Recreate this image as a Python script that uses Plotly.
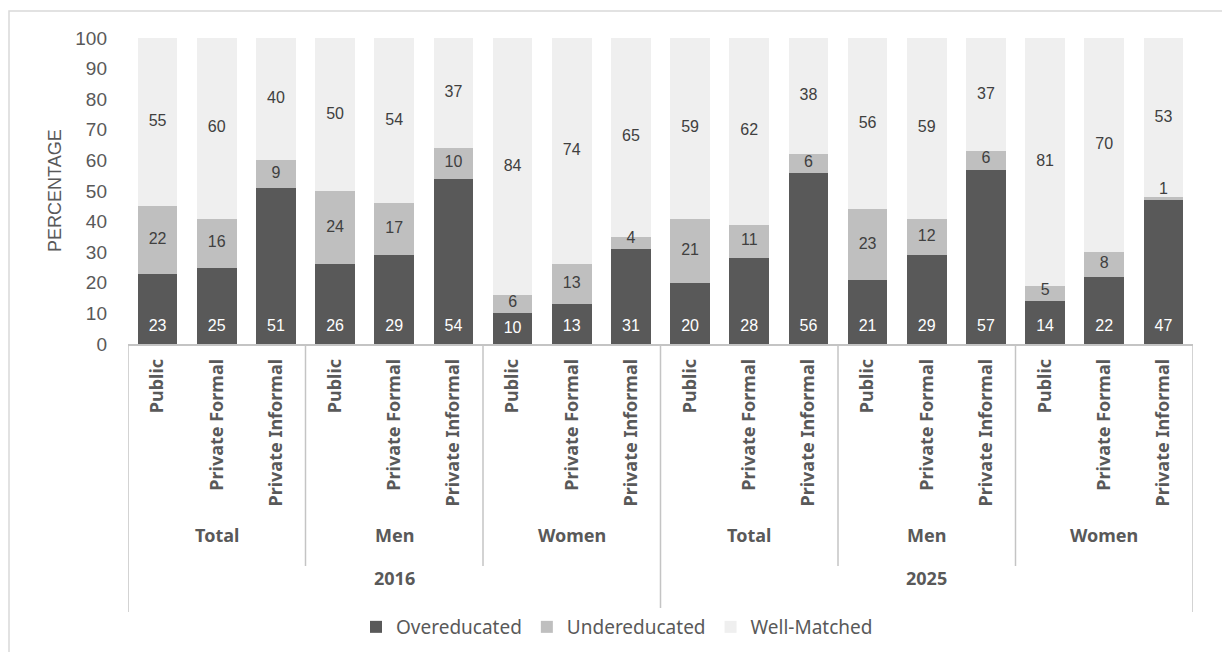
import plotly.graph_objects as go

# Education-job match by sector, sex and survey year (percent of workers)
years = ["2016", "2025"]
groups = ["Total", "Men", "Women"]
sectors = ["Public", "Private Formal", "Private Informal"]

overeducated = [23, 25, 51, 26, 29, 54, 10, 13, 31,
                20, 28, 56, 21, 29, 57, 14, 22, 47]
undereducated = [22, 16, 9, 24, 17, 10, 6, 13, 4,
                 21, 11, 6, 23, 12, 6, 5, 8, 1]
well_matched = [55, 60, 40, 50, 54, 37, 84, 74, 65,
                59, 62, 38, 56, 59, 37, 81, 70, 53]

COLORS = {"Overeducated": "#595959", "Undereducated": "#bfbfbf",
          "Well-Matched": "#efefef"}

n_sec = len(sectors)
n_grp = len(groups)
positions = list(range(len(years) * n_grp * n_sec))
tick_text = [sectors[i % n_sec] for i in positions]

Y_MAX = 100

# Figure geometry (pixels)
W, H = 1222, 652
PL, PR, PT, PB = 128, 1193, 38, 344


def px_x(px):
    return (px - PL) / (PR - PL)


def px_y(py):
    return (PB - py) / (PB - PT)


GREY_TXT = "#595959"
DARK_TXT = "#404040"
LINE = "#c4c4c4"
LABEL_FONT = "Liberation Sans, Arial, sans-serif"
CAT_FONT = "Noto Sans, DejaVu Sans, sans-serif"
AXIS_FONT = "Liberation Sans, Arial, sans-serif"
LABEL_SIZE = 16

fig = go.Figure()
for name, vals in [("Overeducated", overeducated),
                   ("Undereducated", undereducated),
                   ("Well-Matched", well_matched)]:
    fig.add_trace(go.Bar(
        x=positions, y=vals, name=name,
        marker=dict(color=COLORS[name], line=dict(width=0)),
        hoverinfo="skip",
    ))

# --- value labels -----------------------------------------------------------
half_text = 3.3      # half a label's height, in axis units
base_label_y = 5.5   # label height inside the bottom segment, in axis units

under_base = overeducated
well_base = [o + u for o, u in zip(overeducated, undereducated)]

# bottom segment: label near the base of the bar
over_label_y = [min(base_label_y, o / 2) for o in overeducated]
# middle segment: centred, lifted clear of the dark segment when too thin
under_label_y = [max(b + u / 2, b + half_text)
                 for b, u in zip(under_base, undereducated)]
# top segment: centred in its visible part
well_label_y = [(b + min(Y_MAX, b + w)) / 2 for b, w in zip(well_base, well_matched)]

for vals, ys, color in [(overeducated, over_label_y, "white"),
                        (undereducated, under_label_y, DARK_TXT),
                        (well_matched, well_label_y, DARK_TXT)]:
    fig.add_trace(go.Scatter(
        x=positions, y=ys, mode="text",
        text=[str(v) for v in vals], textposition="middle center",
        textfont=dict(family=LABEL_FONT, size=LABEL_SIZE, color=color),
        showlegend=False, hoverinfo="skip", cliponaxis=False,
    ))

shapes = []
annotations = []

# Outer chart frame
shapes.append(dict(type="rect", xref="paper", yref="paper",
                   x0=px_x(9), x1=px_x(W + 20), y0=px_y(H + 20), y1=px_y(11),
                   line=dict(color="#d9d9d9", width=1.5), layer="below"))

# Group separators below the axis: long ones between years, short ones between groups
per_year = n_grp * n_sec
for b in range(0, len(positions) + 1, n_sec):
    is_year_edge = b % per_year == 0
    shapes.append(dict(type="line", xref="x", yref="paper",
                       x0=b - 0.5, x1=b - 0.5,
                       y0=0, y1=px_y(612 if is_year_edge else 566),
                       line=dict(color=LINE, width=1.5)))

label_font = dict(family=CAT_FONT, size=18, color=GREY_TXT, weight="bold")

# Group labels (Total / Men / Women) and year labels
for yi, year in enumerate(years):
    for gi, grp in enumerate(groups):
        centre = yi * per_year + gi * n_sec + (n_sec - 1) / 2
        annotations.append(dict(x=centre, y=px_y(535), xref="x", yref="paper",
                                text=grp, showarrow=False, font=label_font,
                                xanchor="center", yanchor="middle"))
    centre = yi * per_year + (per_year - 1) / 2
    annotations.append(dict(x=centre, y=px_y(578), xref="x", yref="paper",
                            text=year, showarrow=False, font=label_font,
                            xanchor="center", yanchor="middle"))

# Y axis title
annotations.append(dict(x=px_x(55), y=0.5, xref="paper", yref="paper",
                        text="PERCENTAGE", textangle=-90, showarrow=False,
                        font=dict(family=AXIS_FONT, size=18, color=GREY_TXT),
                        xanchor="center", yanchor="middle"))

fig.update_layout(
    width=W, height=H,
    margin=dict(l=PL, r=W - PR, t=PT, b=H - PB, autoexpand=False),
    barmode="stack",
    bargap=0.33,
    plot_bgcolor="white",
    paper_bgcolor="white",
    shapes=shapes,
    annotations=annotations,
    legend=dict(orientation="h", xref="container", yref="container",
                x=617 / W, xanchor="center",
                y=(H - 627) / H, yanchor="middle", traceorder="normal",
                font=dict(family=CAT_FONT, size=19, color=GREY_TXT),
                itemclick=False, itemdoubleclick=False),
    xaxis=dict(
        tickmode="array", tickvals=positions, ticktext=tick_text,
        tickangle=-90, range=[-0.5, len(positions) - 0.5],
        tickfont=label_font, automargin=False,
        showline=True, linecolor=LINE, linewidth=1.5,
        showgrid=False, zeroline=False, ticks="", ticklabelstandoff=6,
    ),
    yaxis=dict(
        range=[0, Y_MAX], dtick=10, showgrid=False, zeroline=False,
        showline=False, ticks="", ticklabelstandoff=20, automargin=False,
        tickfont=dict(family=AXIS_FONT, size=19, color=GREY_TXT),
    ),
)

fig.write_html("out.html")
